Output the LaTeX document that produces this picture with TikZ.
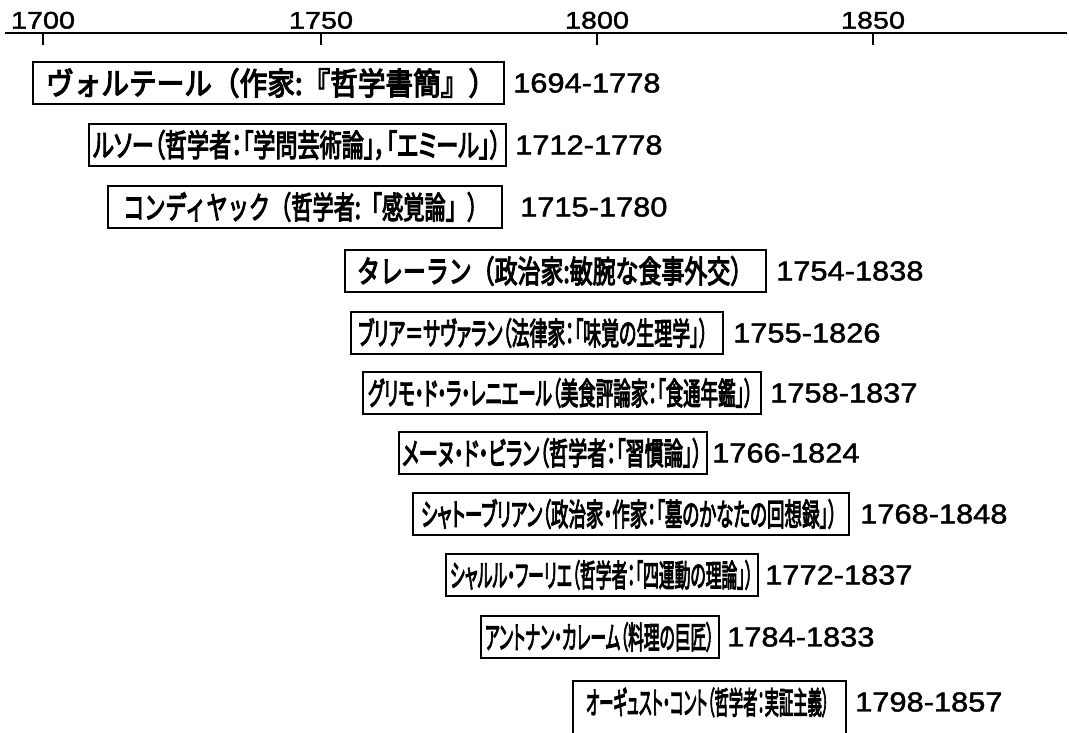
\documentclass[tikz,border=0pt]{standalone}
\usepackage{fontspec}
\usepackage{graphicx}
\newfontfamily\jp[FakeBold=4]{Noto Sans CJK JP}
\newfontfamily\jpp[FakeBold=4,RawFeature=+palt]{Noto Sans CJK JP}
\newfontfamily\yrfont[FakeStretch=1.12,FakeBold=1.6]{Liberation Sans}
\newfontfamily\axfont[FakeStretch=1.2,FakeBold=1.6]{Liberation Sans}
\tikzset{
  bx/.style={draw, line width=2.2pt, inner sep=0pt, anchor=west, minimum height=42pt,
    font={\jpp\fontsize{31}{33}\selectfont}},
  yr/.style={anchor=west, inner sep=0pt, font={\yrfont\fontsize{27.5}{30}\selectfont}},
  ax/.style={anchor=south, inner sep=0pt, font={\axfont\fontsize{24}{26}\selectfont}},
  axisline/.style={line width=2.8pt},
  tickline/.style={line width=2.2pt}
}
\newcommand\entry[9]{%
  \pgfmathsetmacro\bw{#4-#3}%
  \node[bx] (#1) at (#3,#2) {\makebox[\bw pt][l]{\hspace*{#5pt}\resizebox{#6pt}{\height}{#7}}};
  \node[yr] (#1y) at (#8,#2) {#9};
}
\begin{document}
\begin{tikzpicture}[x=1pt,y=-1pt]
\useasboundingbox (0,0) rectangle (1069,733);
% axis
\coordinate (axl) at (5,33);
\coordinate (axr) at (1067,33);
\draw[axisline] (axl) -- (axr);
\foreach \yr/\xx in {1700/43,1750/321,1800/597,1850/873}{
  \coordinate (t\yr) at (\xx,33);
  \coordinate (tb\yr) at (\xx,45);
  \draw[tickline] (t\yr) -- (tb\yr);
  \node[ax] (l\yr) at (\xx,29) {\yr};
}
% entries: name, y, xl, xr, pad, textwidth, text, yearx, years
\entry{volt}{83}{32}{503}{13}{450}{\jp ヴォルテール（作家:『哲学書簡』）}{513}{1694-1778}
\entry{rous}{145}{88}{505}{4}{408}{ルソー（哲学者：「学問芸術論」，「エミール」）}{515}{1712-1778}
\entry{cond}{207}{107}{501}{15}{365}{\jp コンディヤック（哲学者:「感覚論」）}{520}{1715-1780}
\entry{tall}{271}{344}{765}{12}{396}{\jp タレーラン（政治家:敏腕な食事外交）}{776}{1754-1838}
\entry{bril}{333}{350}{722}{7}{350}{ブリア＝サヴァラン（法律家：「味覚の生理学」）}{733}{1755-1826}
\entry{grim}{393}{362}{760}{5}{385}{グリモ・ド・ラ・レニエール（美食評論家：「食通年鑑」）}{770}{1758-1837}
\entry{main}{453}{398}{706}{3}{300}{メーヌ・ド・ビラン（哲学者：「習慣論」）}{712}{1766-1824}
\entry{chat}{514}{412}{848}{8}{416}{シャトーブリアン（政治家・作家：「墓のかなたの回想録」）}{860}{1768-1848}
\entry{four}{575}{445}{757}{4}{303}{シャルル・フーリエ（哲学者：「四運動の理論」）}{765}{1772-1837}
\entry{care}{637}{480}{718}{4}{229}{アントナン・カレーム（料理の巨匠）}{727}{1784-1833}
% last row: box runs past the lower edge
\pgfmathsetmacro\bw{845-572}
\node[bx, minimum height=62pt, anchor=north west] (comt) at (572,680)
  {\makebox[\bw pt][l]{\hspace*{13pt}\raisebox{-2pt}[0pt][0pt]{\resizebox{243pt}{\height}{オーギュスト・コント（哲学者：実証主義）}}}};
\node[yr] (comty) at (855,702) {1798-1857};
\end{tikzpicture}
\end{document}
